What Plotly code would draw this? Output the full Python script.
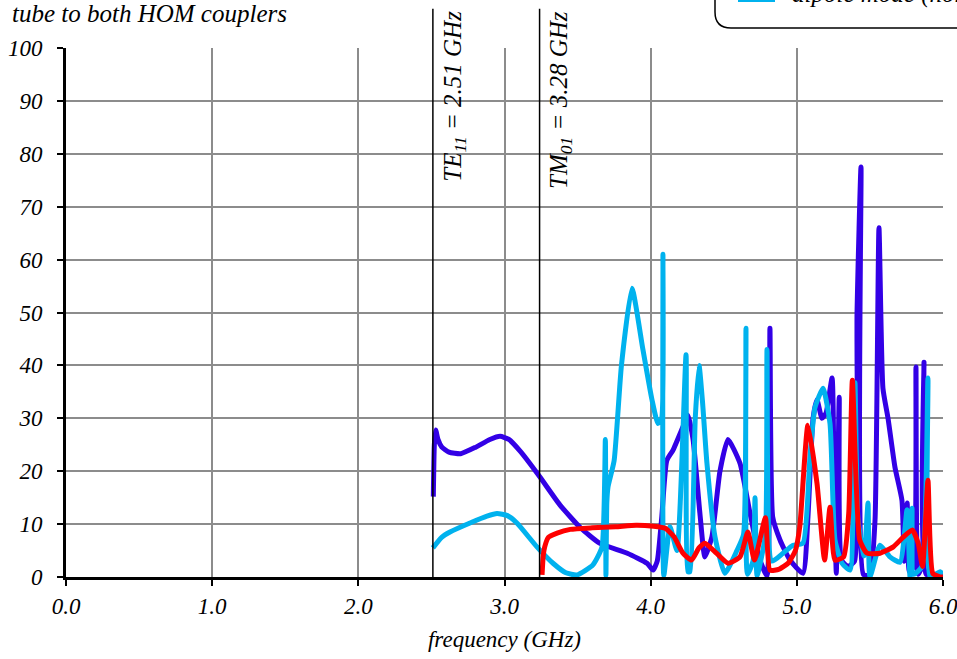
import plotly.graph_objects as go

# ---------------- data ----------------
# dipole mode (vertical) – dark blue
dv_freq = [2.513, 2.52, 2.529, 2.545, 2.57, 2.62, 2.70, 2.80, 2.90, 2.97, 3.03, 3.11,
           3.24, 3.38, 3.52, 3.65, 3.84, 3.975, 4.016, 4.045, 4.075, 4.11, 4.153,
           4.221, 4.255, 4.29, 4.337, 4.371, 4.419, 4.474, 4.529, 4.611, 4.68,
           4.748, 4.796, 4.816, 4.835, 4.885, 4.953, 5.042, 5.076, 5.111, 5.138,
           5.172, 5.20, 5.241, 5.255, 5.27, 5.29, 5.305, 5.35, 5.395, 5.412,
           5.439, 5.455, 5.50, 5.535, 5.562, 5.589, 5.624, 5.671, 5.719, 5.735,
           5.755, 5.77, 5.80, 5.815, 5.83, 5.855, 5.87, 5.885, 6.0]
dv_val = [15.2, 25.0, 27.8, 26.0, 24.6, 23.6, 23.3, 24.5, 26.0, 26.6, 26.0, 23.7,
          19.0, 13.6, 9.3, 6.4, 4.5, 2.6, 1.3, 3.0, 11.0, 22.0, 24.0,
          28.4, 30.6, 26.0, 12.0, 3.8, 7.6, 20.0, 26.0, 21.5, 12.0,
          3.2, 0.2, 47.0, 11.3, 7.0, 3.2, 0.7, 11.3, 30.0, 33.5,
          30.0, 31.0, 37.6, 17.7, 0.7, 34.0, 3.2, 2.0, 3.0, 50.0,
          77.5, 0.5, 0.3, 10.8, 66.0, 35.7, 30.0, 20.8, 14.5, 3.0,
          14.0, 1.0, 2.0, 39.7, 0.5, 2.0, 40.6, 0.5, 0.3]

# dipole mode (horizontal) – light blue
dh_freq = [2.51, 2.57, 2.627, 2.764, 2.88, 2.949, 3.02, 3.085, 3.222, 3.332, 3.42,
           3.496, 3.605, 3.667, 3.69, 3.694, 3.70, 3.708, 3.75, 3.80, 3.872, 3.947,
           4.009, 4.05, 4.075, 4.084, 4.09, 4.132, 4.18, 4.242, 4.255, 4.269,
           4.305, 4.331, 4.355, 4.385, 4.44, 4.508, 4.59, 4.635, 4.652, 4.662,
           4.70, 4.714, 4.728, 4.785, 4.796, 4.83, 4.905, 4.974, 5.042, 5.09,
           5.124, 5.179, 5.227, 5.261, 5.309, 5.364, 5.385, 5.398, 5.418, 5.46,
           5.487, 5.50, 5.569, 5.637, 5.706, 5.754, 5.774, 5.788, 5.80, 5.856,
           5.897, 5.911, 5.98, 6.0]
dh_val = [5.5, 7.5, 8.5, 10.2, 11.5, 12.0, 11.6, 10.2, 5.7, 2.6, 0.8,
          0.4, 2.3, 5.7, 26.0, 0.3, 14.0, 17.0, 22.0, 40.0, 54.6, 43.0,
          33.5, 29.0, 30.0, 61.0, 0.3, 9.5, 5.0, 42.0, 1.0, 1.0,
          30.0, 40.0, 33.0, 21.5, 7.6, 0.7, 5.0, 8.0, 47.0, 0.5,
          3.0, 15.0, 0.3, 8.0, 43.0, 3.0, 4.5, 6.0, 6.4, 22.7,
          32.0, 35.7, 29.0, 7.0, 2.6, 1.3, 20.0, 36.7, 11.0, 4.0,
          14.0, 0.0, 6.0, 3.8, 2.8, 12.7, 0.0, 13.0, 0.5, 2.0,
          37.6, 0.0, 1.0, 0.5]

# monopole mode – red
mo_freq = [3.257, 3.265, 3.275, 3.30, 3.36, 3.45, 3.60, 3.76, 3.90, 4.02, 4.10,
           4.16, 4.221, 4.28, 4.33, 4.371, 4.45, 4.529, 4.611, 4.665, 4.71,
           4.785, 4.816, 4.88, 4.94, 4.99, 5.02, 5.076, 5.138, 5.19, 5.227,
           5.261, 5.32, 5.355, 5.38, 5.43, 5.48, 5.569, 5.66, 5.73, 5.79,
           5.83, 5.86, 5.897, 5.93, 5.98, 6.0]
mo_val = [0.4, 4.0, 5.7, 7.5, 8.3, 9.0, 9.3, 9.5, 9.8, 9.6, 9.2,
          7.6, 4.5, 3.2, 5.5, 6.4, 4.5, 2.6, 3.8, 8.5, 3.2,
          11.2, 1.3, 1.5, 2.6, 5.0, 9.5, 28.7, 17.7, 3.2, 13.2,
          3.2, 3.8, 12.0, 37.2, 7.0, 4.5, 4.5, 5.7, 7.6, 8.9,
          6.4, 2.0, 18.3, 0.7, 0.0, 0.0]

cutoff_freq = [2.51, 3.24]
cutoff_text = ["TE<sub>11</sub> = 2.51 GHz", "TM<sub>01</sub> = 3.28 GHz"]

x_ticks = [0, 1, 2, 3, 4, 5, 6]
x_tick_text = ["0.0", "1.0", "2.0", "3.0", "4.0", "5.0", "6.0"]
y_ticks = [0, 10, 20, 30, 40, 50, 60, 70, 80, 90, 100]

# ---------------- figure ----------------
FONT = "Liberation Serif"
DARK = "#3300E6"
LIGHT = "#00B2EE"
RED = "#FF0000"

fig = go.Figure()
for xs, ys, col, name in [(dv_freq, dv_val, DARK, "dipole mode (vertical)"),
                          (dh_freq, dh_val, LIGHT, "dipole mode (horizontal)"),
                          (mo_freq, mo_val, RED, "monopole mode")]:
    fig.add_trace(go.Scatter(x=xs, y=ys, mode="lines", name=name,
                             line=dict(color=col, width=5, shape="spline", smoothing=0.5),
                             showlegend=False, hoverinfo="skip"))

# cutoff vertical lines and labels
for f, t in zip(cutoff_freq, cutoff_text):
    fig.add_shape(type="line", xref="x", yref="paper", x0=f, x1=f, y0=0, y1=1.074,
                  line=dict(color="black", width=1.5), layer="above")
    fig.add_annotation(x=f, xref="x", y=1.074, yref="paper", text=t, textangle=-90,
                       showarrow=False, xanchor="left", yanchor="top", xshift=4,
                       font=dict(family=FONT, size=25, color="black", style="italic"))

# title fragment at top-left
fig.add_annotation(x=-0.064, xref="paper", y=1.036, yref="paper",
                   text="tube to both HOM couplers", showarrow=False,
                   xanchor="left", yanchor="bottom",
                   font=dict(family=FONT, size=25, color="black", style="italic"))

# legend box (partially visible at top-right)
x0 = (715 - 66) / 877
x1 = (980 - 66) / 877
yb = (577 - 28) / 529
yt = (577 + 40) / 529
rx = 16 / 877
ry = 16 / 529
fig.add_shape(type="path", xref="paper", yref="paper",
              path=f"M {x0},{yt} L {x0},{yb + ry} Q {x0},{yb} {x0 + rx},{yb} L {x1},{yb} L {x1},{yt}",
              line=dict(color="black", width=1.5), fillcolor="white", layer="above")
fig.add_shape(type="rect", xref="paper", yref="paper",
              x0=(738 - 66) / 877, x1=(775 - 66) / 877,
              y0=(577 - 2) / 529, y1=(577 + 14) / 529,
              line=dict(width=0), fillcolor=LIGHT, layer="above")
fig.add_annotation(x=(790 - 66) / 877, xref="paper", y=(577 - 10) / 529, yref="paper",
                   text="dipole mode (horizontal)", showarrow=False,
                   xanchor="left", yanchor="bottom",
                   font=dict(family=FONT, size=25, color="black", style="italic"))

fig.update_layout(
    width=957, height=659,
    margin=dict(l=66, r=14, t=48, b=82),
    paper_bgcolor="white", plot_bgcolor="white",
    font=dict(family=FONT, color="black"),
    xaxis=dict(range=[0, 6], tickvals=x_ticks, ticktext=x_tick_text,
               showgrid=True, gridcolor="#8C8C8C", gridwidth=2,
               showline=True, linecolor="black", linewidth=3,
               ticks="outside", ticklen=6, tickwidth=2, tickcolor="black",
               zeroline=False, ticklabeloverflow="allow", automargin=False,
               tickfont=dict(family=FONT, size=23, style="italic"),
               title=dict(text="frequency (GHz)", standoff=14,
                          font=dict(family=FONT, size=23, style="italic"))),
    yaxis=dict(range=[0, 100], tickvals=y_ticks, automargin=False,
               showgrid=True, gridcolor="#8C8C8C", gridwidth=2,
               showline=True, linecolor="black", linewidth=3,
               ticks="outside", ticklen=6, tickwidth=2, tickcolor="black",
               zeroline=False, ticklabelstandoff=10,
               tickfont=dict(family=FONT, size=23, style="italic")),
)

fig.write_html("out.html")
